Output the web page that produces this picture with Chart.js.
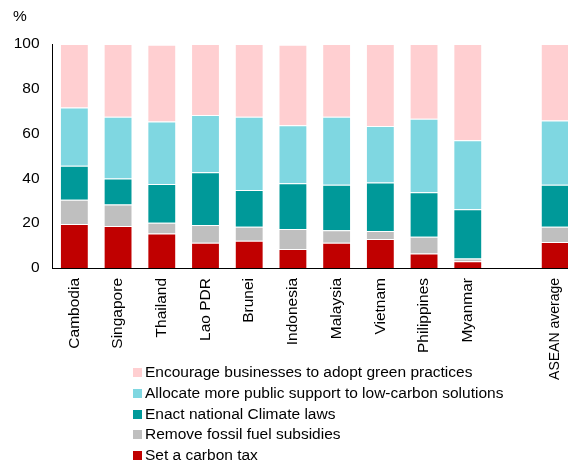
<!DOCTYPE html>
<html>
<head>
<meta charset="utf-8">
<script src="https://cdn.jsdelivr.net/npm/chart.js@4/dist/chart.umd.min.js"></script>
<style>
    html, body { margin: 0; padding: 0; background: #fff; overflow: hidden; width: 568px; height: 464px; }
    #wrap { position: relative; width: 568px; height: 464px; overflow: hidden; }
    #chart { position: absolute; left: 0; top: 0; }
    .legend { position: absolute; left: 133px; top: 362px; font-family: "Liberation Sans", Arial, sans-serif; font-size: 15.5px; color: #000; }
    .legend div { height: 20.8px; line-height: 20.8px; white-space: nowrap; }
    .legend span { display: inline-block; width: 9px; height: 9px; margin-right: 3px; vertical-align: 0px; }
</style>
</head>
<body>
<div id="wrap">
    <canvas id="chart" width="582" height="464"></canvas>
    <div class="legend" id="legend"></div>
</div>
<script>
// Countries, with an empty slot before the ASEAN average
const categories = ['Cambodia', 'Singapore', 'Thailand', 'Lao PDR', 'Brunei', 'Indonesia',
    'Malaysia', 'Vietnam', 'Philippines', 'Myanmar', '', 'ASEAN average'];

// Stacked shares (%), bottom to top
const carbonTax      = [19.6, 18.8, 15.4, 11.3, 12.2, 8.5, 11.3, 12.9, 6.5, 3.0, null, 11.6];
const fossilSubsidy  = [10.9, 9.5, 4.8, 7.9, 6.2, 8.9, 5.5, 3.6, 7.5, 1.2, null, 6.8];
const climateLaws    = [15.2, 11.6, 17.3, 23.5, 16.4, 20.4, 20.4, 21.7, 19.8, 22.0, null, 18.8];
const publicSupport  = [26.0, 27.6, 27.9, 25.6, 32.7, 25.9, 30.3, 25.2, 32.8, 30.8, null, 28.7];
const greenPractices = [28.3, 32.5, 34.3, 31.7, 32.5, 36.0, 32.5, 36.6, 33.4, 43.0, null, 34.1];

const yTicks = [0, 20, 40, 60, 80, 100];

const series = [
    { label: 'Set a carbon tax', data: carbonTax, color: '#C00000' },
    { label: 'Remove fossil fuel subsidies', data: fossilSubsidy, color: '#BFBFBF' },
    { label: 'Enact national Climate laws', data: climateLaws, color: '#009999' },
    { label: 'Allocate more public support to low-carbon solutions', data: publicSupport, color: '#7FD7E1' },
    { label: 'Encourage businesses to adopt green practices', data: greenPractices, color: '#FFCFD1' }
];

const fontFamily = '"Liberation Sans", Arial, sans-serif';
const font = { family: fontFamily, size: 15.5 };

// "%" unit label in the top left corner
const unitLabel = {
    id: 'unitLabel',
    afterDraw(chart) {
        const ctx = chart.ctx;
        ctx.save();
        ctx.font = '15.5px ' + fontFamily;
        ctx.fillStyle = '#000';
        ctx.textBaseline = 'top';
        ctx.fillText('%', 13, 9);
        ctx.restore();
    }
};

new Chart(document.getElementById('chart'), {
    type: 'bar',
    data: {
        labels: categories,
        datasets: series.map(s => ({
            label: s.label,
            data: s.data,
            backgroundColor: s.color,
            borderColor: 'rgba(255,255,255,0.35)',
            borderWidth: 1,
            barPercentage: 0.66,
            categoryPercentage: 1
        }))
    },
    options: {
        responsive: false,
        animation: false,
        layout: { padding: { top: 44, left: 0, right: 0, bottom: 0 } },
        plugins: {
            legend: { display: false },
            tooltip: { enabled: false }
        },
        scales: {
            x: {
                stacked: true,
                grid: { display: false, drawTicks: false },
                border: { color: '#000', width: 1 },
                ticks: {
                    color: '#000',
                    // the average label is set a little tighter in the original
                    font: c => (c.index === categories.length - 1 ? { family: fontFamily, size: 14 } : font),
                    maxRotation: 90, minRotation: 90, padding: 10, autoSkip: false
                },
                afterFit: scale => { scale.height = 196; }
            },
            y: {
                stacked: true,
                min: 0,
                max: 100,
                grid: { display: false, drawTicks: false },
                border: { color: '#000', width: 1 },
                afterBuildTicks: scale => { scale.ticks = yTicks.map(v => ({ value: v })); },
                ticks: { color: '#000', font: font, padding: 13 },
                afterFit: scale => { scale.width = 52.5; }
            }
        }
    },
    plugins: [unitLabel]
});

// Legend, listed top of stack first
document.getElementById('legend').innerHTML = series.slice().reverse()
    .map(s => `<div><span style="background:${s.color}"></span>${s.label}</div>`).join('');
</script>
</body>
</html>
